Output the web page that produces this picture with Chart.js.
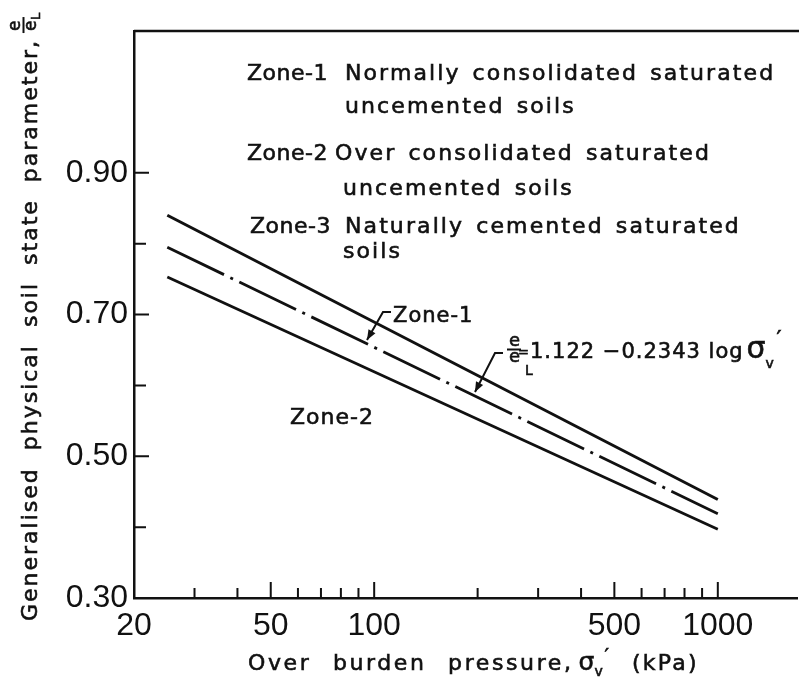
<!DOCTYPE html>
<html>
<head>
<meta charset="utf-8">
<script src="https://cdn.jsdelivr.net/npm/chart.js@4.4.0/dist/chart.umd.min.js"></script>
<style>
  html, body { margin: 0; padding: 0; background: #fff; }
  canvas { display: block; }
</style>
</head>
<body>
<canvas id="chart" width="799" height="687" style="width:799px;height:687px"></canvas>
<script>
/* e/eL against overburden pressure (log scale), three zone boundary lines */

// ---- data ----
const pressure   = [25, 1000];           // kPa, ends of the three lines
const zone1Upper = [0.840, 0.439];       // solid, upper boundary
const meanLine   = [0.795, 0.419];       // dash-dot, e/eL = 1.122 - 0.2343 log sv'
const zone2Lower = [0.753, 0.397];       // solid, lower boundary

const xRange = [20, 1700];
const yRange = [0.30, 1.10];
const xTickValues  = [20, 50, 100, 500, 1000];
const xMinorTicks  = [30, 40, 60, 70, 80, 90, 200, 300, 400, 600, 700, 800, 900];
const yTickValues  = [0.30, 0.50, 0.70, 0.90];
const yMinorTicks  = [0.40, 0.60, 0.80];

const zoneNames = ['Zone-1', 'Zone-2', 'Zone-3'];
const zoneText  = [
  ['Normally consolidated saturated', 'uncemented soils'],
  ['Over consolidated saturated', 'uncemented soils'],
  ['Naturally cemented saturated', 'soils'],
];

const FONT = '"DejaVu Sans", sans-serif';
const TICK_FONT = '"Liberation Sans", Arial, sans-serif';
const INK = '#111';

function pts(ys) {
  return pressure.map((x, i) => ({x, y: ys[i]}));
}

// text with a hairline stroke so it reads as heavy as the scanned lettering
function txt(ctx, s, x, y, size, spacing, words) {
  ctx.font = size + 'px ' + FONT;
  ctx.letterSpacing = (spacing || 0) + 'px';
  ctx.wordSpacing = (words || 0) + 'px';
  ctx.textAlign = 'left';
  ctx.textBaseline = 'alphabetic';
  ctx.fillText(s, x, y);
  ctx.lineWidth = 0.6;
  ctx.strokeText(s, x, y);
  const w = ctx.measureText(s).width;
  ctx.letterSpacing = '0px';
  ctx.wordSpacing = '0px';
  return x + w;
}

function arrow(ctx, path) {
  ctx.lineWidth = 2;
  ctx.beginPath();
  ctx.moveTo(path[0][0], path[0][1]);
  for (let i = 1; i < path.length; i++) ctx.lineTo(path[i][0], path[i][1]);
  ctx.stroke();
  const [x1, y1] = path[path.length - 2];
  const [x2, y2] = path[path.length - 1];
  const a = Math.atan2(y2 - y1, x2 - x1);
  ctx.beginPath();
  ctx.moveTo(x2, y2);
  ctx.lineTo(x2 - 10 * Math.cos(a) + 4 * Math.sin(a), y2 - 10 * Math.sin(a) - 4 * Math.cos(a));
  ctx.lineTo(x2 - 10 * Math.cos(a) - 4 * Math.sin(a), y2 - 10 * Math.sin(a) + 4 * Math.cos(a));
  ctx.closePath();
  ctx.fill();
}

// inward ticks, top frame line, texts and arrows
const decorations = {
  id: 'decorations',
  afterDraw(chart) {
    const {ctx, chartArea: ca, scales: {x, y}} = chart;
    ctx.save();
    ctx.strokeStyle = INK;
    ctx.fillStyle = INK;

    // frame top
    ctx.lineWidth = 2.5;
    ctx.beginPath();
    ctx.moveTo(ca.left, ca.top);
    ctx.lineTo(chart.width, ca.top);
    ctx.stroke();

    // ticks pointing into the plot
    ctx.lineWidth = 2;
    ctx.beginPath();
    xTickValues.slice(1).forEach(v => {
      const px = x.getPixelForValue(v);
      ctx.moveTo(px, ca.bottom); ctx.lineTo(px, ca.bottom - 16);
    });
    xMinorTicks.forEach(v => {
      const px = x.getPixelForValue(v);
      ctx.moveTo(px, ca.bottom); ctx.lineTo(px, ca.bottom - 10);
    });
    yTickValues.slice(1).forEach(v => {
      const py = y.getPixelForValue(v);
      ctx.moveTo(ca.left, py); ctx.lineTo(ca.left + 15, py);
    });
    yMinorTicks.forEach(v => {
      const py = y.getPixelForValue(v);
      ctx.moveTo(ca.left, py); ctx.lineTo(ca.left + 12, py);
    });
    ctx.stroke();

    // zone descriptions
    const rows = [[80, 113], [160, 195], [233, 258]];
    const nameX = [247, 247, 250];
    const descX = [[345, 345], [335, 343], [345, 343]];
    zoneNames.forEach((n, i) => {
      txt(ctx, n, nameX[i], rows[i][0], 22, 0.5);
      zoneText[i].forEach((s, j) => txt(ctx, s, descX[i][j], rows[i][j], 22, 2.1, 3));
    });

    // zone labels inside the plot
    txt(ctx, 'Zone-1', 393, 322, 21, 1);
    txt(ctx, 'Zone-2', 290, 424, 22, 1);

    // arrows
    arrow(ctx, [[391, 312], [383, 312], [367, 340]]);
    arrow(ctx, [[503, 353], [495, 353], [475, 392]]);

    // equation
    txt(ctx, 'e', 509, 346, 18, 0);
    ctx.lineWidth = 2;
    ctx.beginPath(); ctx.moveTo(507, 349.5); ctx.lineTo(521, 349.5); ctx.stroke();
    txt(ctx, 'e', 509, 362, 18, 0);
    txt(ctx, 'L', 525, 375, 14, 0);
    txt(ctx, '=', 518, 356, 13, 0);
    let ex = txt(ctx, '1.122 \u22120.2343 log', 530, 358, 21, 1);
    ex = txt(ctx, '\u03c3', ex + 3, 358, 30, 0);
    txt(ctx, 'v', ex, 368, 14, 0);
    txt(ctx, '\u2032', ex + 11, 346, 22, 0);

    // x axis title
    let tx = txt(ctx, 'Over burden pressure,', 248, 670, 22, 2.6, 12);
    tx = txt(ctx, '\u03c3', tx + 5, 670, 25, 0);
    txt(ctx, 'v', tx, 676, 14, 0);
    txt(ctx, '\u2032', tx + 10, 662, 20, 0);
    txt(ctx, '(kPa)', 632, 670, 22, 2.2);

    // y axis title (rotated)
    ctx.translate(37, 621);
    ctx.rotate(-Math.PI / 2);
    const end = txt(ctx, 'Generalised physical soil state parameter,', 0, 0, 22, 2, 8);
    const fx = end + 8;
    txt(ctx, 'e', fx, -17, 17, 0);
    ctx.lineWidth = 2;
    ctx.beginPath(); ctx.moveTo(fx - 2, -13.5); ctx.lineTo(fx + 14, -13.5); ctx.stroke();
    txt(ctx, 'e', fx, -1, 17, 0);
    txt(ctx, 'L', fx + 11, 3, 13, 0);

    ctx.restore();
  },
};

new Chart(document.getElementById('chart'), {
  type: 'line',
  data: {
    datasets: [
      {label: 'Zone-1 boundary', data: pts(zone1Upper), borderColor: INK, borderWidth: 3},
      {label: 'e/eL', data: pts(meanLine), borderColor: INK, borderWidth: 2.8,
       borderDash: [63, 7, 3, 7]},
      {label: 'Zone-2 boundary', data: pts(zone2Lower), borderColor: INK, borderWidth: 2.8},
    ],
  },
  options: {
    responsive: false,
    animation: false,
    layout: {padding: {top: 31, right: 2, left: 0, bottom: 0}},
    elements: {point: {radius: 0}, line: {tension: 0, fill: false, borderCapStyle: 'butt'}},
    plugins: {legend: {display: false}, tooltip: {enabled: false}},
    scales: {
      x: {
        type: 'logarithmic',
        min: xRange[0], max: xRange[1],
        afterBuildTicks: s => { s.ticks = xTickValues.map(v => ({value: v})); },
        afterFit: s => { s.height = 89; },
        grid: {display: false, drawTicks: false},
        border: {display: true, color: INK, width: 2.5},
        ticks: {
          color: INK, padding: 9, maxRotation: 0, autoSkip: false,
          font: {family: TICK_FONT, size: 32},
          callback: v => String(v),
        },
      },
      y: {
        type: 'linear',
        min: yRange[0], max: yRange[1],
        afterBuildTicks: s => { s.ticks = yTickValues.map(v => ({value: v})); },
        afterFit: s => { s.width = 134; },
        grid: {display: false, drawTicks: false},
        border: {display: true, color: INK, width: 2.5},
        ticks: {
          color: INK, padding: 6,
          font: {family: TICK_FONT, size: 32},
          callback: v => v.toFixed(2),
        },
      },
    },
  },
  plugins: [decorations],
});
</script>
</body>
</html>
